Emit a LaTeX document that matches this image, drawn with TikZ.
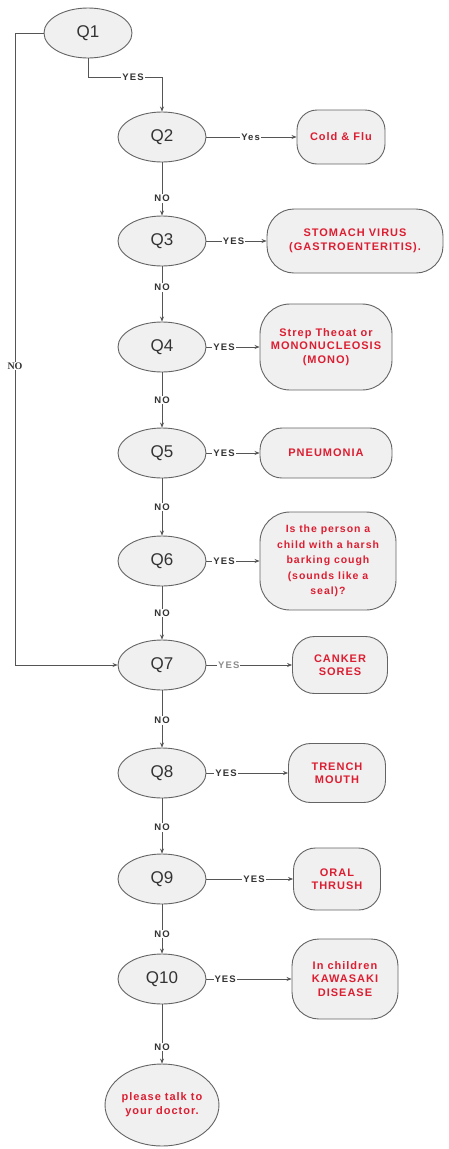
\documentclass[tikz,border=0pt]{standalone}
\usepackage{fontspec}
\setmainfont{Liberation Sans}
\newfontfamily\serifbf{Liberation Serif}
\newfontfamily\redfont[LetterSpace=9]{Liberation Sans}
\newfontfamily\lblfont[LetterSpace=12]{Liberation Sans}
\usetikzlibrary{shapes.geometric,arrows.meta}
\definecolor{lineC}{RGB}{85,85,85}
\definecolor{qfill}{RGB}{240,240,240}
\definecolor{qborder}{RGB}{100,100,100}
\definecolor{redT}{RGB}{220,30,50}
\tikzset{
  qnode/.style={ellipse, draw=qborder, fill=qfill, line width=0.9pt, minimum width=88, minimum height=50, inner sep=0pt, font=\fontsize{17}{18}\selectfont, text=black!80},
  rnode/.style={rectangle, rounded corners=20pt, draw=qborder, fill=qfill, line width=0.9pt, align=center, inner sep=2pt, text=redT, font=\redfont\fontsize{11}{13.5}\selectfont\bfseries},
  arr/.style={draw=lineC, line width=0.7pt, -{Stealth[length=5pt,width=4pt]}},
  lbl/.style={fill=white, inner sep=1pt, text=black!80, font=\lblfont\fontsize{9.5}{10}\selectfont\bfseries},
}
\begin{document}
\begin{tikzpicture}[x=1pt,y=-1pt]
\useasboundingbox[fill=white] (0,0) rectangle (449,1149);
% question nodes
\node[qnode] (q1) at (88,33) {Q1};
\node[qnode] (q2) at (162,137) {Q2};
\node[qnode] (q3) at (162,241) {Q3};
\node[qnode] (q4) at (162,347) {Q4};
\node[qnode] (q5) at (162,453) {Q5};
\node[qnode] (q6) at (162,561) {Q6};
\node[qnode] (q7) at (162,665) {Q7};
\node[qnode] (q8) at (162,773) {Q8};
\node[qnode] (q9) at (162,879) {Q9};
\node[qnode] (q10) at (162,979) {Q10};
% result nodes
\node[rnode, minimum width=88, minimum height=54, rounded corners=20pt] (r2) at (341,137) {Cold \& Flu};
\node[rnode, minimum width=176, minimum height=64, rounded corners=27pt] (r3) at (355,241) {STOMACH VIRUS\\(GASTROENTERITIS).};
\node[rnode, minimum width=132, minimum height=86, rounded corners=30pt] (r4) at (326,347) {Strep Theoat or\\MONONUCLEOSIS\\(MONO)};
\node[rnode, minimum width=132, minimum height=50, rounded corners=22pt] (r5) at (326,453) {PNEUMONIA};
\node[rnode, minimum width=136, minimum height=98, rounded corners=30pt, font=\redfont\fontsize{10.5}{15.5}\selectfont\bfseries] (r6) at (328,561) {Is the person a\\child with a harsh\\barking cough\\(sounds like a\\seal)?};
\node[rnode, minimum width=95, minimum height=57, rounded corners=22pt] (r7) at (340,665) {CANKER\\SORES};
\node[rnode, minimum width=97, minimum height=59, rounded corners=22pt] (r8) at (337,773) {TRENCH\\MOUTH};
\node[rnode, minimum width=87, minimum height=62, rounded corners=22pt] (r9) at (337,879) {ORAL\\THRUSH};
\node[rnode, minimum width=106, minimum height=80, rounded corners=27pt] (r10) at (345,979) {In children\\KAWASAKI\\DISEASE};
\node[ellipse, draw=qborder, fill=qfill, line width=0.9pt, minimum width=107, minimum height=82, inner sep=0pt, align=center, text=redT, font=\redfont\fontsize{11}{14}\selectfont\bfseries] (doc) at (162,1105) {please talk to\\your doctor.};
% coordinates
\coordinate (c1) at (162,77);
\coordinate (lp) at (15,33);
% Q1 edges
\draw[arr] (q1.south) |- (c1) -- (q2.north);
\node[lbl] (y1) at (133,77) {YES};
\draw[arr] (q1.west) -- (lp) |- (q7.west);
\node[fill=white, inner sep=1pt, text=black!80, font=\serifbf\fontsize{10}{10}\selectfont\bfseries] (n1) at (15,366) {NO};
% yes edges
\draw[arr] (q2.east) -- node[lbl, pos=0.49] {Yes} (r2.west);
\draw[arr] (q3.east) -- node[lbl, pos=0.45] {YES} (r3.west);
\draw[arr] (q4.east) -- node[lbl, pos=0.33] {YES} (r4.west);
\draw[arr] (q5.east) -- node[lbl, pos=0.33] {YES} (r5.west);
\draw[arr] (q6.east) -- node[lbl, pos=0.33] {YES} (r6.west);
\draw[arr] (q7.east) -- node[lbl, pos=0.26, text=black!45] {YES} (r7.west);
\draw[arr] (q8.east) -- node[lbl, pos=0.24] {YES} (r8.west);
\draw[arr] (q9.east) -- node[lbl, pos=0.55] {YES} (r9.west);
\draw[arr] (q10.east) -- node[lbl, pos=0.22] {YES} (r10.west);
% no edges
\draw[arr] (q2.south) -- node[lbl, pos=0.68] {NO} (q3.north);
\draw[arr] (q3.south) -- node[lbl, pos=0.38] {NO} (q4.north);
\draw[arr] (q4.south) -- node[lbl, pos=0.5] {NO} (q5.north);
\draw[arr] (q5.south) -- node[lbl, pos=0.5] {NO} (q6.north);
\draw[arr] (q6.south) -- node[lbl, pos=0.5] {NO} (q7.north);
\draw[arr] (q7.south) -- node[lbl, pos=0.53] {NO} (q8.north);
\draw[arr] (q8.south) -- node[lbl, pos=0.53] {NO} (q9.north);
\draw[arr] (q9.south) -- node[lbl, pos=0.6] {NO} (q10.north);
\draw[arr] (q10.south) -- node[lbl, pos=0.72] {NO} (doc.north);
\end{tikzpicture}
\end{document}
